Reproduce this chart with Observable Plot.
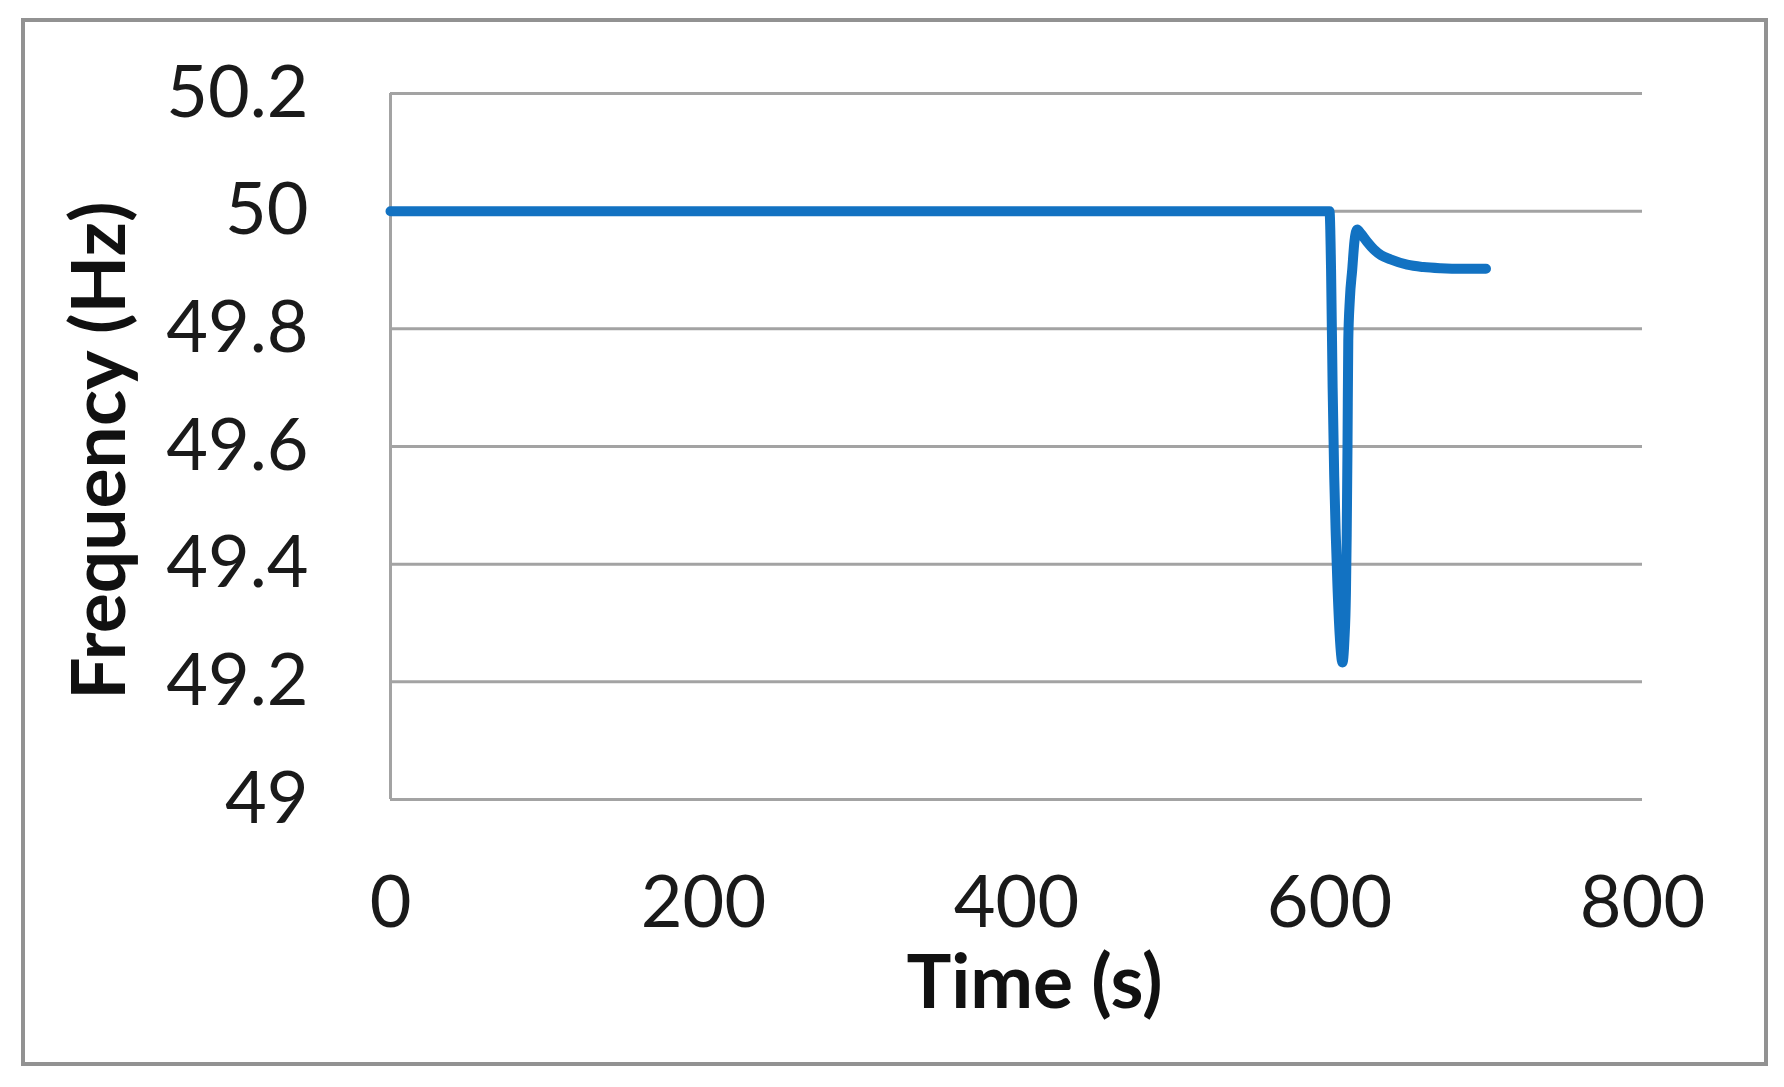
<!DOCTYPE html>
<html>
<head>
<meta charset="utf-8">
<script src="https://cdn.jsdelivr.net/npm/d3@7"></script>
<script src="https://cdn.jsdelivr.net/npm/@observablehq/plot@0.6"></script>
<style>
  html, body { margin: 0; padding: 0; background: #fff; }
  #wrap { position: relative; width: 1784px; height: 1087px; overflow: hidden; }
  #frame { position: absolute; left: 21px; top: 18px; width: 1739px; height: 1040px; border: 4px solid #929292; box-sizing: content-box; }
  #chart { position: absolute; left: 0; top: 0; }
</style>
</head>
<body>
<div id="wrap">
  <div id="frame"></div>
  <div id="chart"></div>
</div>
<script>
// Time (s)
const time = [0, 600, 601, 602, 603, 604, 605, 606.5, 608.3, 609.5, 610.5, 611, 611.5, 612, 613, 614.5, 616, 617.7, 620, 624, 628.3, 633, 639, 649.6, 660, 671, 685, 700];
// Frequency (Hz)
const freq = [50, 50, 49.9, 49.7, 49.55, 49.45, 49.37, 49.28, 49.233, 49.27, 49.35, 49.45, 49.6, 49.78, 49.85, 49.9, 49.95, 49.969, 49.962, 49.948, 49.935, 49.925, 49.918, 49.909, 49.905, 49.903, 49.902, 49.902];
const xTicks = [0, 200, 400, 600, 800];
const yTicks = [49, 49.2, 49.4, 49.6, 49.8, 50, 50.2];
const xTitle = "Time (s)";
const yTitle = "Frequency (Hz)";

const data = time.map((t, i) => ({t, f: freq[i]}));
const gridColor = "#a3a3a3";

const chart = Plot.plot({
  width: 1784,
  height: 1087,
  marginLeft: 390,
  marginRight: 142,
  marginTop: 93,
  marginBottom: 288,
  style: {fontFamily: "Lato, 'Open Sans', sans-serif", background: "transparent", color: "#1a1a1a"},
  x: {domain: [0, 800]},
  y: {domain: [49, 50.2]},
  marks: [
    Plot.ruleY(yTicks, {stroke: gridColor, strokeWidth: 3}),
    Plot.ruleX([0], {stroke: gridColor, strokeWidth: 3}),
    Plot.axisX(xTicks, {tickSize: 0, tickPadding: 76, fontSize: 72, label: null, tickFormat: d => String(d)}),
    Plot.axisY(yTicks, {tickSize: 0, tickPadding: 82, fontSize: 72, label: null, tickFormat: d => String(+d.toFixed(1))}),
    Plot.text([xTitle], {frameAnchor: "bottom", textAnchor: "middle", lineAnchor: "middle", dx: 18, dy: 184, fontSize: 75, fontWeight: "bold", fill: "#111"}),
    Plot.text([yTitle], {frameAnchor: "left", textAnchor: "middle", lineAnchor: "middle", rotate: -90, dx: -290, dy: 4, fontSize: 75, fontWeight: "bold", fill: "#111"}),
    Plot.line(data, {x: "t", y: "f", stroke: "#1272c2", strokeWidth: 10, strokeLinejoin: "round", strokeLinecap: "round", curve: "monotone-x"})
  ]
});
document.getElementById("chart").appendChild(chart);
</script>
</body>
</html>
